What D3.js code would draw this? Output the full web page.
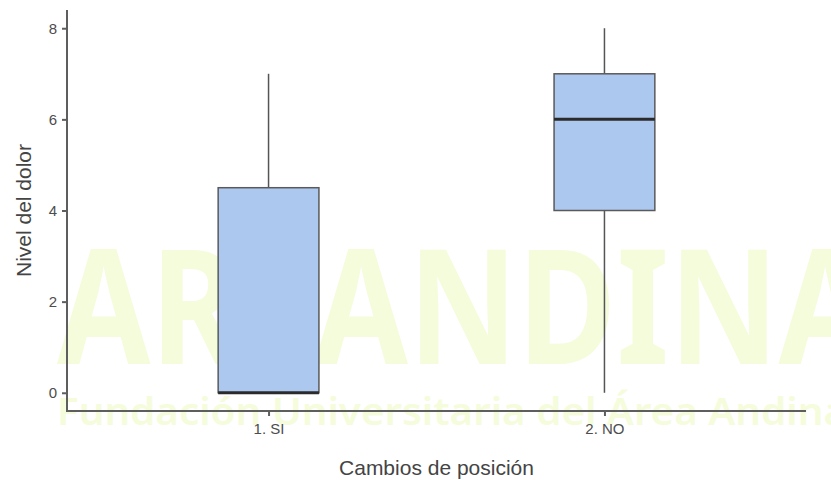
<!DOCTYPE html>
<html>
<head>
<meta charset="utf-8">
<script src="https://cdn.jsdelivr.net/npm/d3@7"></script>
<style>
  html, body { margin: 0; padding: 0; background: #ffffff; }
  svg { display: block; }
</style>
</head>
<body>
<svg id="chart" width="831" height="480"></svg>
<script>
// Box-plot summaries of pain level by change of position
const categories = ["1. SI", "2. NO"];
const whiskerLow  = [0, 0];
const q1          = [0, 4];
const median      = [0, 6];
const q3          = [4.5, 7];
const whiskerHigh = [7, 8];
const yTicks = [0, 2, 4, 6, 8];

const xTitle = "Cambios de posición";
const yTitle = "Nivel del dolor";
const markText = "AREANDINA";
const markSub = "Fundación Universitaria del Área Andina";

const plotL = 67, plotR = 806, plotT = 10, plotB = 411;

const svg = d3.select("#chart");

// Institutional watermark, sits behind the plot
const wm = svg.append("g").attr("fill", "#f5fcdb");
wm.append("text")
  .attr("x", 57).attr("y", 364)
  .attr("font-family", "'Noto Sans', sans-serif")
  .attr("font-weight", 700)
  .attr("font-size", 160)
  .attr("textLength", 815)
  .attr("lengthAdjust", "spacingAndGlyphs")
  .text(markText);
wm.append("text")
  .attr("x", 57).attr("y", 425)
  .attr("font-family", "'Noto Sans', sans-serif")
  .attr("font-weight", 600)
  .attr("font-size", 38)
  .attr("textLength", 790)
  .attr("lengthAdjust", "spacingAndGlyphs")
  .text(markSub);

const y = d3.scaleLinear().domain([-0.4, 8.4]).range([plotB, plotT]);
const x = d3.scalePoint().domain(categories).range([plotL, plotR]).padding(0.6);
const boxW = x.step() * 0.3;

const rows = categories.map((c, i) => ({
  cat: c, lo: whiskerLow[i], q1: q1[i], med: median[i], q3: q3[i], hi: whiskerHigh[i]
}));

const boxes = svg.append("g").selectAll("g").data(rows).join("g");

// whiskers
boxes.append("line")
  .attr("x1", d => x(d.cat)).attr("x2", d => x(d.cat))
  .attr("y1", d => y(d.q3)).attr("y2", d => y(d.hi))
  .attr("stroke", "#555").attr("stroke-width", 1.5);
boxes.append("line")
  .attr("x1", d => x(d.cat)).attr("x2", d => x(d.cat))
  .attr("y1", d => y(d.q1)).attr("y2", d => y(d.lo))
  .attr("stroke", "#555").attr("stroke-width", 1.5);

// interquartile box
boxes.append("rect")
  .attr("x", d => x(d.cat) - boxW / 2)
  .attr("width", boxW)
  .attr("y", d => y(d.q3))
  .attr("height", d => y(d.q1) - y(d.q3))
  .attr("fill", "#adc8ef")
  .attr("stroke", "#5a5a5a").attr("stroke-width", 1.5);

// median
boxes.append("line")
  .attr("x1", d => x(d.cat) - boxW / 2).attr("x2", d => x(d.cat) + boxW / 2)
  .attr("y1", d => y(d.med)).attr("y2", d => y(d.med))
  .attr("stroke", "#2b2b2b").attr("stroke-width", 3);

// axes
const yAxis = svg.append("g")
  .attr("transform", `translate(${plotL},0)`)
  .call(d3.axisLeft(y).tickValues(yTicks).tickSize(5).tickSizeOuter(0).tickPadding(5));
const xAxis = svg.append("g")
  .attr("transform", `translate(0,${plotB})`)
  .call(d3.axisBottom(x).tickSize(5).tickSizeOuter(0).tickPadding(7));

[yAxis, xAxis].forEach(a => {
  a.attr("font-family", "'Liberation Sans', Arial, sans-serif").attr("font-size", 15);
  a.select(".domain").attr("stroke", "#5e5e5e").attr("stroke-width", 2);
  a.selectAll(".tick line").attr("stroke", "#5e5e5e").attr("stroke-width", 2);
  a.selectAll(".tick text").attr("fill", "#4d4d4d");
});
// axis lines meet at the corner
yAxis.select(".domain").attr("d", `M0,${plotT}V${plotB}`);
xAxis.select(".domain").attr("d", `M${plotL - 1},0H${plotR}`);

// titles
svg.append("text")
  .attr("x", (plotL + plotR) / 2).attr("y", 475)
  .attr("text-anchor", "middle")
  .attr("fill", "#444")
  .attr("font-family", "'Liberation Sans', Arial, sans-serif")
  .attr("font-size", 21)
  .text(xTitle);
svg.append("text")
  .attr("transform", `translate(31,${(plotT + plotB) / 2}) rotate(-90)`)
  .attr("text-anchor", "middle")
  .attr("fill", "#444")
  .attr("font-family", "'Liberation Sans', Arial, sans-serif")
  .attr("font-size", 21)
  .text(yTitle);
</script>
</body>
</html>
